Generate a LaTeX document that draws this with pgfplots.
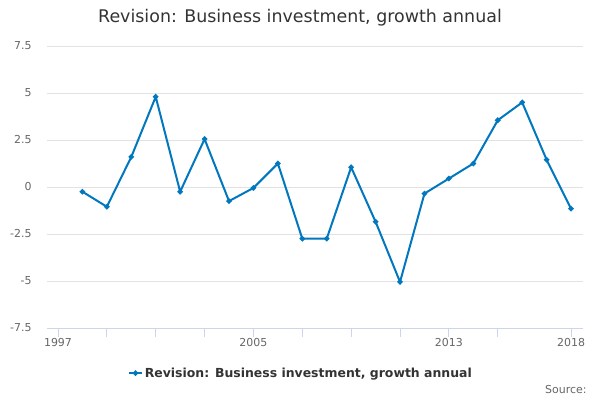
\documentclass[border=0pt]{standalone}
\usepackage{pgfplots}
\pgfplotsset{compat=1.18}
\usepackage{fontspec}
\setmainfont{DejaVu Sans}
\definecolor{lineblue}{RGB}{0,119,190}
\definecolor{gridgray}{RGB}{226,226,226}
\definecolor{axisblue}{RGB}{204,214,235}
\definecolor{labgray}{RGB}{102,102,102}
\definecolor{titlegray}{RGB}{51,51,51}
\begin{document}
\begin{tikzpicture}[x=1bp,y=1bp]
\path (0,0) rectangle (600,400);
\begin{axis}[
  at={(47bp,72bp)}, anchor=south west,
  scale only axis, width=536bp, height=282bp,
  xmin=1996.55, xmax=2018.49,
  ymin=-7.5, ymax=7.5,
  ytick={-7.5,-5,-2.5,0,2.5,5,7.5},
  yticklabels={-7.5,-5,-2.5,0,2.5,5,7.5},
  xtick={1997,1999,2001,2003,2005,2007,2009,2011,2013,2015,2018},
  xticklabels={1997,,,,2005,,,,2013,,2018},
  axis x line*=bottom, axis y line*=left,
  x axis line style={axisblue, line width=0.8pt, -},
  y axis line style={draw=none},
  ymajorgrids, grid style={gridgray, line width=0.6pt},
  major tick length=9bp,
  xtick style={axisblue, line width=0.8pt},
  tick align=outside,
  ytick style={draw=none},
  ticklabel style={font=\fontsize{11}{13}\selectfont, text=labgray},
  y tick label style={xshift=-3bp},
  /pgf/number format/assume math mode=true,
  x tick label style={yshift=2bp},
  legend style={at={(0.474,-0.16)}, anchor=center, draw=none, fill=none,
    font=\fontsize{12.5}{14}\selectfont\bfseries, text=titlegray},
  legend image code/.code={\draw[#1, line width=1.5pt] (0bp,0bp) -- (13bp,0bp); \fill[lineblue] (6.5bp,0bp) circle (1.6bp);},
  clip=false,
]
\addplot[lineblue, line width=2bp, mark=*, mark size=1.6bp, mark options={solid}] coordinates {
(1998,-0.25) (1999,-1.05) (2000,1.6) (2001,4.8) (2002,-0.25) (2003,2.55)
(2004,-0.75) (2005,-0.05) (2006,1.25) (2007,-2.75) (2008,-2.75) (2009,1.05)
(2010,-1.85) (2011,-5.05) (2012,-0.35) (2013,0.45) (2014,1.25) (2015,3.55)
(2016,4.5) (2017,1.45) (2018,-1.15)
};
\addlegendentry{Revision: Business investment, growth annual}
\end{axis}
\node[font=\fontsize{17.5}{20}\selectfont, text=titlegray] at (300,382) {Revision: Business investment, growth annual};
\node[font=\fontsize{11}{13}\selectfont, text=labgray, anchor=east] at (590,10) {Source:};
\end{tikzpicture}
\end{document}
